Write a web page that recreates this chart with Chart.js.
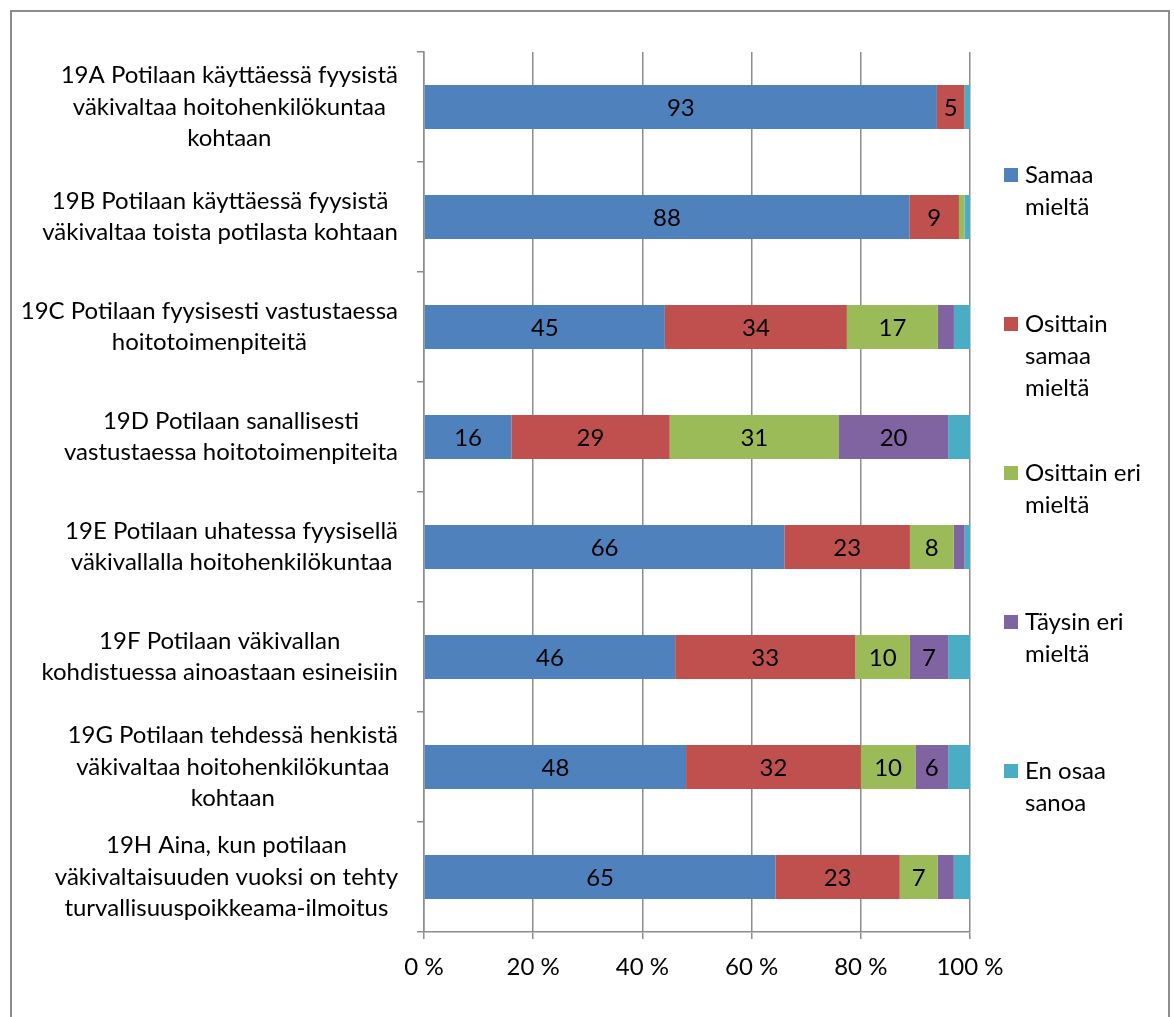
<!DOCTYPE html>
<html>
<head>
<meta charset="utf-8">
<script src="https://cdn.jsdelivr.net/npm/chart.js@4/dist/chart.umd.min.js"></script>
<style>
  html, body { margin: 0; padding: 0; background: #fff; }
  #wrap { position: relative; width: 1174px; height: 1017px; }
</style>
</head>
<body>
<div id="wrap"><canvas id="chart"></canvas></div>
<script>
// Survey statements (one row per bar), wrapped as drawn
const categories = [
  ['19A Potilaan käyttäessä fyysistä', 'väkivaltaa hoitohenkilökuntaa', 'kohtaan'],
  ['19B Potilaan käyttäessä fyysistä', 'väkivaltaa toista potilasta kohtaan'],
  ['19C Potilaan fyysisesti vastustaessa', 'hoitotoimenpiteitä'],
  ['19D Potilaan sanallisesti', 'vastustaessa hoitotoimenpiteita'],
  ['19E Potilaan uhatessa fyysisellä', 'väkivallalla hoitohenkilökuntaa'],
  ['19F Potilaan väkivallan', 'kohdistuessa ainoastaan esineisiin'],
  ['19G Potilaan tehdessä henkistä', 'väkivaltaa hoitohenkilökuntaa', 'kohtaan'],
  ['19H Aina, kun potilaan', 'väkivaltaisuuden vuoksi on tehty', 'turvallisuuspoikkeama-ilmoitus']
];

// Answer options (legend text, wrapped)
const seriesNames = [
  ['Samaa', 'mieltä'],
  ['Osittain', 'samaa', 'mieltä'],
  ['Osittain eri', 'mieltä'],
  ['Täysin eri', 'mieltä'],
  ['En osaa', 'sanoa']
];

// Answer shares per statement (%)
const samaaMielta         = [93, 88, 45, 16, 66, 46, 48, 65];
const osittainSamaaMielta = [ 5,  9, 34, 29, 23, 33, 32, 23];
const osittainEriMielta   = [ 0,  1, 17, 31,  8, 10, 10,  7];
const taysinEriMielta     = [ 0,  0,  3, 20,  2,  7,  6,  3];
const enOsaaSanoa         = [ 1,  1,  3,  4,  1,  4,  4,  3];

const xTickLabels = ['0 %', '20 %', '40 %', '60 %', '80 %', '100 %'];

const seriesColors = ['#4F81BD', '#C0504D', '#9BBB59', '#8064A2', '#4BACC6'];

const FONT = 'Lato, "Open Sans", sans-serif';
const FONT_SIZE = 24;
const GRID = '#8c8c8c';

const rawSeries = [samaaMielta, osittainSamaaMielta, osittainEriMielta, taysinEriMielta, enOsaaSanoa];

// 100 % stacking: each row is scaled by its own total
const rowTotals = categories.map((_, i) => rawSeries.reduce((s, arr) => s + arr[i], 0));
const datasets = rawSeries.map((arr, k) => ({
  label: seriesNames[k].join(' '),
  raw: arr,
  data: arr.map((v, i) => v / rowTotals[i] * 100),
  backgroundColor: seriesColors[k],
  borderWidth: 0,
  categoryPercentage: 1.0,
  barPercentage: 0.4
}));

// Outer frame of the chart
const framePlugin = {
  id: 'frame',
  beforeDraw(chart) {
    const ctx = chart.ctx;
    ctx.save();
    ctx.fillStyle = '#fff';
    ctx.fillRect(0, 0, chart.width, chart.height);
    ctx.strokeStyle = GRID;
    ctx.lineWidth = 2;
    ctx.strokeRect(11, 11, 1158, 1015);
    ctx.restore();
  }
};

// Category labels: each label block is centred on its own lines, right edge next to the axis
const categoryLabelPlugin = {
  id: 'categoryLabels',
  afterDraw(chart) {
    const ctx = chart.ctx;
    const yScale = chart.scales.y;
    const rightEdge = yScale.right - 26;
    const lineH = 31.5;
    ctx.save();
    ctx.font = FONT_SIZE + 'px ' + FONT;
    ctx.fillStyle = '#000';
    ctx.textAlign = 'center';
    ctx.textBaseline = 'middle';
    categories.forEach((lines, i) => {
      const yc = yScale.getPixelForTick(i);
      const w = Math.max(...lines.map(l => ctx.measureText(l).width));
      const xc = rightEdge - w / 2;
      lines.forEach((l, k) => {
        ctx.fillText(l, xc, yc + (k - (lines.length - 1) / 2) * lineH);
      });
    });
    ctx.restore();
  }
};

// Value labels inside the bar segments
const valueLabelPlugin = {
  id: 'valueLabels',
  afterDatasetsDraw(chart) {
    const ctx = chart.ctx;
    ctx.save();
    ctx.font = FONT_SIZE + 'px ' + FONT;
    ctx.fillStyle = '#000';
    ctx.textAlign = 'center';
    ctx.textBaseline = 'middle';
    chart.data.datasets.forEach((ds, d) => {
      const meta = chart.getDatasetMeta(d);
      meta.data.forEach((el, i) => {
        const v = ds.raw[i];
        if (v < 5) return;
        const p = el.getProps(['x', 'y', 'base'], true);
        ctx.fillText(String(v), (p.x + p.base) / 2, p.y + 1);
      });
    });
    ctx.restore();
  }
};

// Legend on the right, wrapped entries
const sideLegendPlugin = {
  id: 'sideLegend',
  afterDraw(chart) {
    const ctx = chart.ctx;
    const x0 = 1004, size = 14, textX = 1025, firstY = 175, step = 149, lineH = 32;
    ctx.save();
    ctx.font = FONT_SIZE + 'px ' + FONT;
    ctx.textAlign = 'left';
    ctx.textBaseline = 'middle';
    seriesNames.forEach((lines, k) => {
      const y = firstY + k * step;
      ctx.fillStyle = seriesColors[k];
      ctx.fillRect(x0, y - size / 2, size, size);
      ctx.fillStyle = '#000';
      lines.forEach((l, j) => ctx.fillText(l, textX, y + j * lineH));
    });
    ctx.restore();
  }
};

new Chart(document.getElementById('chart'), {
  type: 'bar',
  data: { labels: categories.map(c => c.join(' ')), datasets },
  options: {
    indexAxis: 'y',
    responsive: true,
    maintainAspectRatio: false,
    animation: false,
    layout: { padding: { top: 52, right: 204, bottom: 0, left: 0 } },
    plugins: {
      legend: { display: false },
      tooltip: { enabled: false }
    },
    scales: {
      x: {
        stacked: true,
        min: 0,
        max: 100,
        ticks: {
          stepSize: 20,
          padding: 14,
          color: '#000',
          font: { family: FONT, size: FONT_SIZE },
          maxRotation: 0,
          callback: (v) => xTickLabels[Math.round(v / 20)]
        },
        grid: { color: GRID, lineWidth: 1.5, tickLength: 7, drawTicks: true },
        border: { color: GRID, width: 1.5 },
        afterFit(scale) { scale.height = 85; }
      },
      y: {
        stacked: true,
        ticks: { display: false },
        grid: { color: GRID, lineWidth: 1.5, drawOnChartArea: false, drawTicks: true, tickLength: 7, offset: true },
        border: { color: GRID, width: 1.5 },
        afterFit(scale) { scale.width = 424; }
      }
    }
  },
  plugins: [framePlugin, categoryLabelPlugin, valueLabelPlugin, sideLegendPlugin]
});
</script>
</body>
</html>
